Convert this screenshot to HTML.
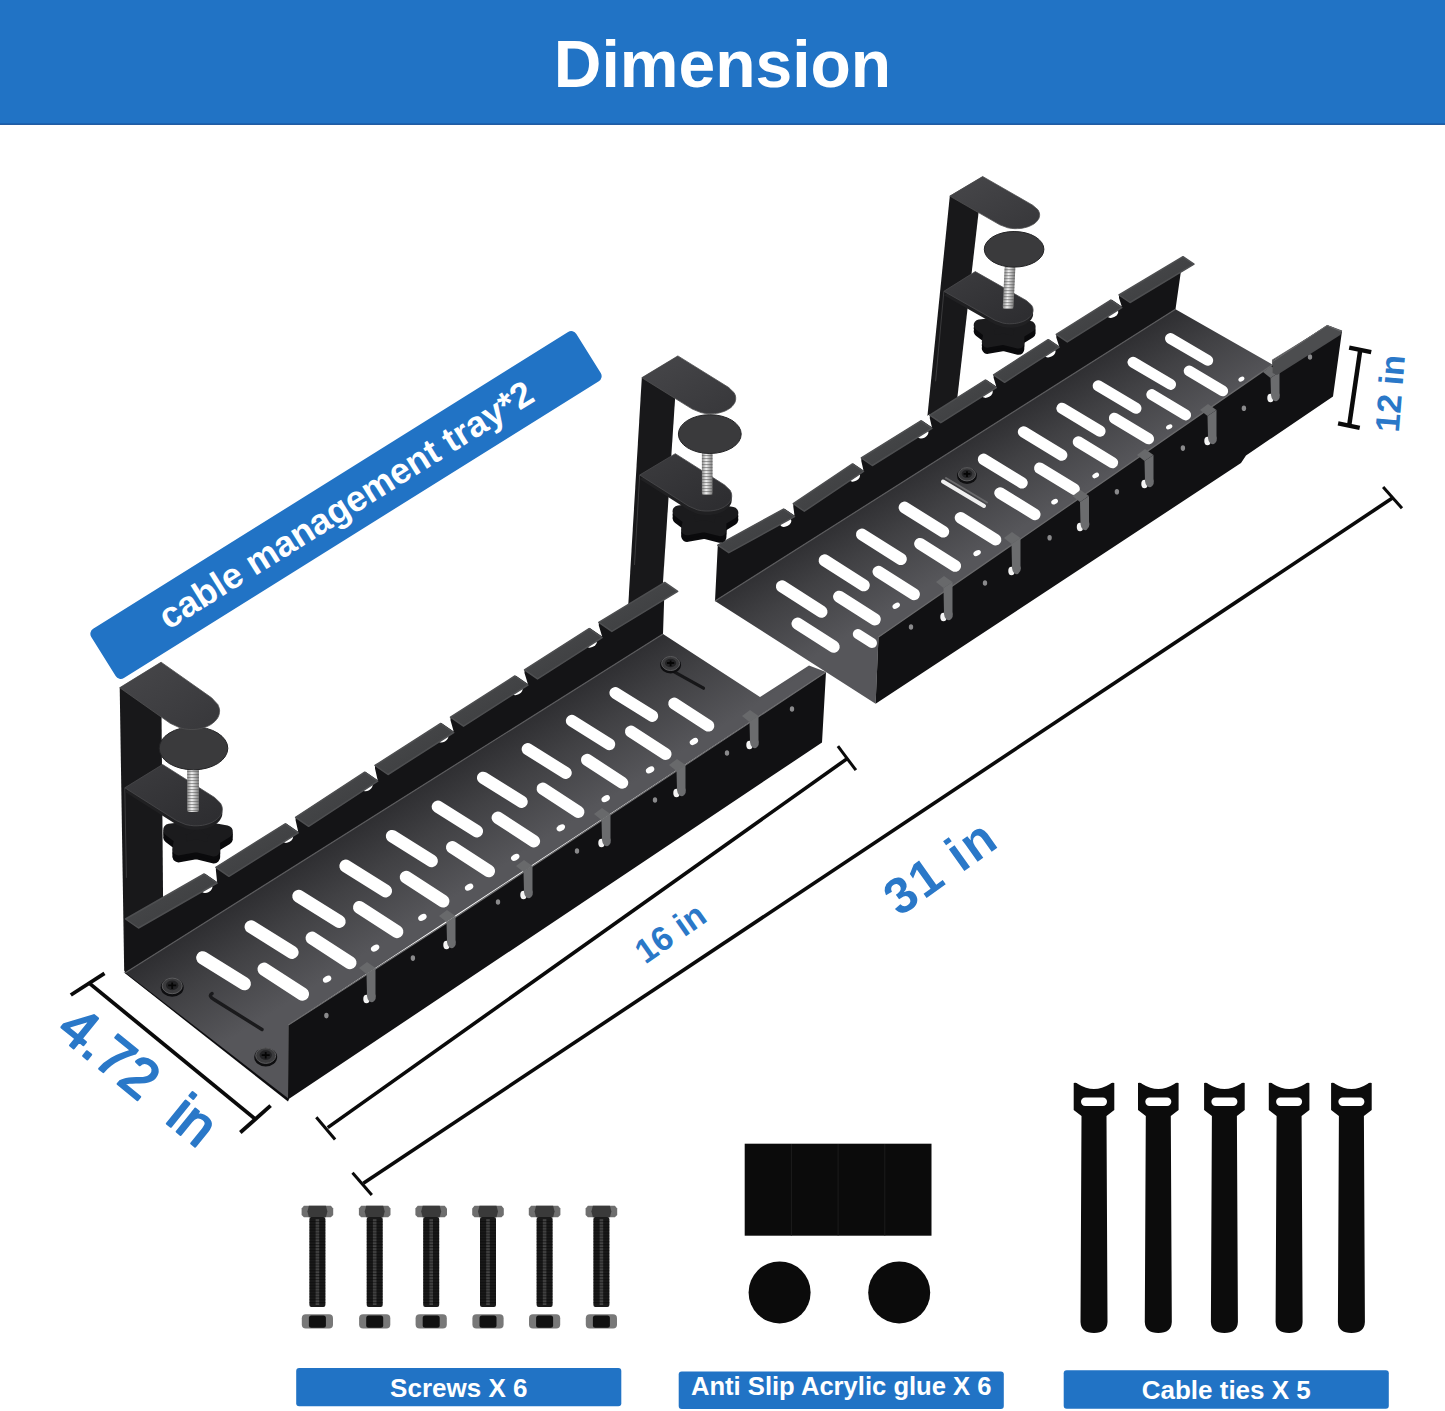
<!DOCTYPE html>
<html><head><meta charset="utf-8"><title>Dimension</title>
<style>
html,body{margin:0;padding:0;background:#fff;}
body{width:1445px;height:1411px;overflow:hidden;font-family:"Liberation Sans",sans-serif;}
svg{display:block;}
text{font-family:"Liberation Sans",sans-serif;}
</style></head><body>
<svg width="1445" height="1411" viewBox="0 0 1445 1411">
<defs>
<linearGradient id="floor1" gradientUnits="userSpaceOnUse" x1="380" y1="790" x2="450" y2="900"><stop offset="0" stop-color="#27272a"/><stop offset="0.5" stop-color="#414144"/><stop offset="1" stop-color="#56565a"/></linearGradient>
<linearGradient id="floor2" gradientUnits="userSpaceOnUse" x1="930" y1="440" x2="995" y2="545"><stop offset="0" stop-color="#27272a"/><stop offset="0.5" stop-color="#414144"/><stop offset="1" stop-color="#56565a"/></linearGradient>
<linearGradient id="flg" x1="0" y1="0" x2="1" y2="1"><stop offset="0" stop-color="#4a4b4d"/><stop offset="1" stop-color="#3a3b3d"/></linearGradient>
<linearGradient id="armg" x1="0" y1="0" x2="1" y2="1"><stop offset="0" stop-color="#47474a"/><stop offset="1" stop-color="#37373a"/></linearGradient>
<linearGradient id="armg2" x1="0" y1="0" x2="1" y2="1"><stop offset="0" stop-color="#3c3c3f"/><stop offset="1" stop-color="#2c2c2f"/></linearGradient>
<linearGradient id="scr" x1="0" y1="0" x2="1" y2="0"><stop offset="0" stop-color="#8a8a8a"/><stop offset="0.4" stop-color="#f2f2f2"/><stop offset="1" stop-color="#7a7a7a"/></linearGradient>
<pattern id="thr" width="4" height="3" patternUnits="userSpaceOnUse"><rect width="4" height="1.1" fill="#555" opacity="0.55"/></pattern>
<pattern id="thr2" width="4" height="2.9" patternUnits="userSpaceOnUse"><rect width="4" height="1.2" fill="#050505"/></pattern>
<filter id="halo" x="-20%" y="-20%" width="140%" height="140%"><feGaussianBlur stdDeviation="2"/></filter>
</defs>
<rect width="1445" height="1411" fill="#fff"/>

<rect x="0" y="0" width="1445" height="124.6" fill="#2173c5"/>
<rect x="0" y="123.6" width="1445" height="1.2" fill="#0f4a94"/>
<text x="722.5" y="86.5" font-size="66" font-weight="bold" fill="#fff" text-anchor="middle">Dimension</text>
<g transform="translate(346,505) rotate(-32)"><rect x="-286" y="-29" width="572" height="58" rx="6" fill="#2173c5"/><text x="0" y="12" font-size="36" font-weight="bold" fill="#fff" text-anchor="middle">cable management tray*2</text></g>
<polygon points="949.8,196.1 982.7,176.5 956.5,405.0 926.0,430.0" fill="#18181a" />
<line x1="943.9" y1="291.3" x2="935.6" y2="381.3" stroke="#3a3a3c" stroke-width="1"/>
<polygon points="1030.0,326.6 1018.7,333.6 1018.7,343.0 1003.4,339.2 987.4,342.1 989.2,332.7 979.3,325.1 995.8,323.2 1005.6,315.6 1014.0,323.8" fill="#0a0a0c" stroke="#0a0a0c" stroke-width="11.2" stroke-linejoin="round" transform="translate(0,6.2)"/>
<polygon points="1030.0,326.6 1018.7,333.6 1018.7,343.0 1003.4,339.2 987.4,342.1 989.2,332.7 979.3,325.1 995.8,323.2 1005.6,315.6 1014.0,323.8" fill="#0a0a0c" stroke="#0a0a0c" stroke-width="11.2" stroke-linejoin="round" transform="translate(0,3.1)"/>
<polygon points="1030.0,326.6 1018.7,333.6 1018.7,343.0 1003.4,339.2 987.4,342.1 989.2,332.7 979.3,325.1 995.8,323.2 1005.6,315.6 1014.0,323.8" fill="#1b1b1d" stroke="#1b1b1d" stroke-width="11.2" stroke-linejoin="round"/>
<polygon points="943.9,295.3 975.3,275.6 1026.3,304.5 1031.4,309.0 1032.6,311.2 1033.0,313.0 1033.1,314.6 1032.9,316.0 1032.4,317.3 1031.8,318.6 1031.0,319.7 1030.1,320.7 1029.1,321.7 1028.0,322.6 1026.7,323.5 1025.4,324.3 1023.9,325.0 1022.3,325.7 1020.6,326.2 1018.7,326.8 1016.7,327.2 1014.5,327.5 1012.2,327.7 1009.5,327.8 1006.4,327.6 1002.7,327.0 994.9,324.2" fill="#202022"/>
<polygon points="943.9,291.3 975.3,271.6 1026.3,300.5 1031.4,305.0 1032.6,307.2 1033.0,309.0 1033.1,310.6 1032.9,312.0 1032.4,313.3 1031.8,314.6 1031.0,315.7 1030.1,316.7 1029.1,317.7 1028.0,318.6 1026.7,319.5 1025.4,320.3 1023.9,321.0 1022.3,321.7 1020.6,322.2 1018.7,322.8 1016.7,323.2 1014.5,323.5 1012.2,323.7 1009.5,323.8 1006.4,323.6 1002.7,323.0 994.9,320.2" fill="url(#armg2)" stroke="#4a4a4c" stroke-width="0.8"/>
<g transform="translate(1010.0,266.0) skewX(-2.66)"><rect x="-5.3" y="0" width="10.7" height="43.0" rx="2" fill="url(#scr)"/><rect x="-5.3" y="0" width="10.7" height="43.0" fill="url(#thr)"/></g>
<ellipse cx="1014.1" cy="249.3" rx="29.8" ry="17.8" fill="#3a3a3c" stroke="#232325" stroke-width="1"/>
<polygon points="949.8,196.1 982.7,176.5 1032.7,205.2 1038.0,209.8 1039.1,212.1 1039.6,214.0 1039.6,215.6 1039.3,217.0 1038.9,218.4 1038.2,219.6 1037.4,220.7 1036.4,221.8 1035.4,222.8 1034.2,223.7 1032.9,224.5 1031.4,225.3 1029.9,226.0 1028.2,226.7 1026.4,227.3 1024.5,227.7 1022.4,228.2 1020.1,228.5 1017.7,228.6 1014.9,228.7 1011.7,228.4 1007.8,227.8 999.8,224.8" fill="url(#armg)" stroke="#505052" stroke-width="0.8"/>
<polygon points="715.0,601.0 1175.5,309.3 1272.6,364.7 1342.0,331.0 878.5,637.0 875.6,703.8" fill="url(#floor2)" />
<line x1="782.0" y1="586.4" x2="821.4" y2="611.7" stroke="#fff" stroke-width="12.2" stroke-linecap="round"/>
<line x1="824.6" y1="560.4" x2="863.8" y2="585.3" stroke="#fff" stroke-width="12.046446961894953" stroke-linecap="round"/>
<line x1="861.9" y1="534.5" x2="900.9" y2="559.1" stroke="#fff" stroke-width="11.911997940267765" stroke-linecap="round"/>
<line x1="904.5" y1="507.5" x2="943.3" y2="531.7" stroke="#fff" stroke-width="11.758444902162719" stroke-linecap="round"/>
<line x1="983.6" y1="459.3" x2="1022.0" y2="482.8" stroke="#fff" stroke-width="11.473326467559216" stroke-linecap="round"/>
<line x1="1023.5" y1="431.9" x2="1061.7" y2="455.1" stroke="#fff" stroke-width="11.329505664263646" stroke-linecap="round"/>
<line x1="1062.0" y1="408.3" x2="1100.0" y2="431.1" stroke="#fff" stroke-width="11.190731204943358" stroke-linecap="round"/>
<line x1="1098.2" y1="385.8" x2="1136.0" y2="408.3" stroke="#fff" stroke-width="11.060247167868177" stroke-linecap="round"/>
<line x1="1133.0" y1="362.2" x2="1170.6" y2="384.4" stroke="#fff" stroke-width="10.93480947476828" stroke-linecap="round"/>
<line x1="1170.4" y1="338.5" x2="1207.8" y2="360.4" stroke="#fff" stroke-width="10.799999999999999" stroke-linecap="round"/>
<line x1="797.6" y1="623.7" x2="833.6" y2="646.7" stroke="#fff" stroke-width="12.2" stroke-linecap="round"/>
<line x1="839.1" y1="596.7" x2="874.8" y2="619.4" stroke="#fff" stroke-width="12.051596424010217" stroke-linecap="round"/>
<line x1="878.5" y1="571.8" x2="914.0" y2="594.2" stroke="#fff" stroke-width="11.910702426564495" stroke-linecap="round"/>
<line x1="920.0" y1="543.8" x2="955.2" y2="565.9" stroke="#fff" stroke-width="11.762298850574712" stroke-linecap="round"/>
<line x1="960.5" y1="517.8" x2="995.5" y2="539.6" stroke="#fff" stroke-width="11.617471264367815" stroke-linecap="round"/>
<line x1="1000.0" y1="493.0" x2="1034.8" y2="514.4" stroke="#fff" stroke-width="11.476219667943806" stroke-linecap="round"/>
<line x1="1039.7" y1="468.1" x2="1074.2" y2="489.2" stroke="#fff" stroke-width="11.334252873563218" stroke-linecap="round"/>
<line x1="1078.3" y1="441.9" x2="1112.6" y2="462.7" stroke="#fff" stroke-width="11.196219667943804" stroke-linecap="round"/>
<line x1="1114.4" y1="418.2" x2="1148.5" y2="438.8" stroke="#fff" stroke-width="11.067126436781608" stroke-linecap="round"/>
<line x1="1151.8" y1="394.6" x2="1185.6" y2="414.9" stroke="#fff" stroke-width="10.93338441890166" stroke-linecap="round"/>
<line x1="1189.1" y1="370.9" x2="1222.7" y2="390.9" stroke="#fff" stroke-width="10.799999999999999" stroke-linecap="round"/>
<line x1="857.8" y1="634.1" x2="872.0" y2="643.0" stroke="#fff" stroke-width="10" stroke-linecap="round"/>
<ellipse cx="896.2" cy="605.7" rx="4" ry="2.6" fill="#fff" transform="rotate(-30 896.2 605.7)"/>
<ellipse cx="977.1" cy="553.1" rx="4" ry="2.6" fill="#fff" transform="rotate(-30 977.1 553.1)"/>
<ellipse cx="1054.6" cy="501.7" rx="3.6" ry="2.4" fill="#fff" transform="rotate(-30 1054.6 501.7)"/>
<ellipse cx="1095.7" cy="475.5" rx="3.6" ry="2.4" fill="#fff" transform="rotate(-30 1095.7 475.5)"/>
<ellipse cx="1169.2" cy="426.9" rx="3.4" ry="2.2" fill="#fff" transform="rotate(-30 1169.2 426.9)"/>
<ellipse cx="1241.4" cy="379.1" rx="3.2" ry="2.2" fill="#fff" transform="rotate(-30 1241.4 379.1)"/>
<line x1="943" y1="481.5" x2="984" y2="506" stroke="#f0f0f0" stroke-width="4" stroke-linecap="round"/>
<line x1="946" y1="478" x2="987" y2="502.5" stroke="#6a6a6c" stroke-width="2" stroke-linecap="round"/>
<polygon points="717.8,545.2 793.3,503.7 861.3,458.0 929.8,415.2 993.6,374.8 1056.3,334.4 1119.0,295.0 1183.0,256.7 1175.5,309.3 715.0,601.0" fill="#141416" />
<line x1="715" y1="601" x2="1175.5" y2="309.3" stroke="#5a5a5c" stroke-width="1.2"/>
<ellipse cx="785.8" cy="522.4" rx="6" ry="4" fill="#fff" transform="rotate(-30 785.8 522.4)"/>
<polygon points="783.5,508.1 793.3,502.7 793.3,506.7 794.5,515.6" fill="#fff" />
<polygon points="717.8,545.2 783.5,509.1 794.5,516.6 728.8,552.7" fill="url(#flg)" stroke="#4e4f51" stroke-width="1.5" stroke-linejoin="round"/>
<ellipse cx="854.5" cy="477.1" rx="6" ry="4" fill="#fff" transform="rotate(-30 854.5 477.1)"/>
<polygon points="852.5,462.9 861.3,457.0 861.3,461.0 863.5,470.4" fill="#fff" />
<polygon points="793.3,503.7 852.5,463.9 863.5,471.4 804.3,511.2" fill="url(#flg)" stroke="#4e4f51" stroke-width="1.5" stroke-linejoin="round"/>
<ellipse cx="922.9" cy="434.0" rx="6" ry="4" fill="#fff" transform="rotate(-30 922.9 434.0)"/>
<polygon points="920.9,419.8 929.8,414.2 929.8,418.2 931.9,427.3" fill="#fff" />
<polygon points="861.3,458.0 920.9,420.8 931.9,428.3 872.3,465.5" fill="url(#flg)" stroke="#4e4f51" stroke-width="1.5" stroke-linejoin="round"/>
<ellipse cx="987.2" cy="393.3" rx="6" ry="4" fill="#fff" transform="rotate(-30 987.2 393.3)"/>
<polygon points="985.3,379.1 993.6,373.8 993.6,377.8 996.3,386.6" fill="#fff" />
<polygon points="929.8,415.2 985.3,380.1 996.3,387.6 940.8,422.7" fill="url(#flg)" stroke="#4e4f51" stroke-width="1.5" stroke-linejoin="round"/>
<ellipse cx="1050.0" cy="352.9" rx="6" ry="4" fill="#fff" transform="rotate(-30 1050.0 352.9)"/>
<polygon points="1048.1,338.7 1056.3,333.4 1056.3,337.4 1059.1,346.2" fill="#fff" />
<polygon points="993.6,374.8 1048.1,339.7 1059.1,347.2 1004.6,382.3" fill="url(#flg)" stroke="#4e4f51" stroke-width="1.5" stroke-linejoin="round"/>
<ellipse cx="1112.7" cy="313.4" rx="6" ry="4" fill="#fff" transform="rotate(-30 1112.7 313.4)"/>
<polygon points="1110.8,299.1 1119.0,294.0 1119.0,298.0 1121.8,306.6" fill="#fff" />
<polygon points="1056.3,334.4 1110.8,300.1 1121.8,307.6 1067.3,341.9" fill="url(#flg)" stroke="#4e4f51" stroke-width="1.5" stroke-linejoin="round"/>
<polygon points="1119.0,295.0 1183.0,256.7 1194.0,264.2 1130.0,302.5" fill="url(#flg)" stroke="#4e4f51" stroke-width="1.5" stroke-linejoin="round"/>
<polygon points="878.5,637.0 1272.6,364.7 1272.6,360.0 1328.0,326.0 1342.0,331.0 1333.0,396.5 1246.0,455.5 1241.0,463.0 875.6,703.8" fill="#111113" />
<polyline points="878.5,637.0 1272.6,364.7 1272.6,360.0 1328.0,326.0 1342.0,331.0" fill="none" stroke="#6a6a6c" stroke-width="1.3"/>
<ellipse cx="911.0" cy="627.0" rx="2.2" ry="2.8" fill="#8a8a8c"/>
<ellipse cx="985.0" cy="583.0" rx="2.2" ry="2.8" fill="#8a8a8c"/>
<ellipse cx="1049.6" cy="537.8" rx="2.2" ry="2.8" fill="#8a8a8c"/>
<ellipse cx="1116.9" cy="491.7" rx="2.2" ry="2.8" fill="#8a8a8c"/>
<ellipse cx="1182.9" cy="448.1" rx="2.2" ry="2.8" fill="#8a8a8c"/>
<ellipse cx="1243.9" cy="408.3" rx="2.2" ry="2.8" fill="#8a8a8c"/>
<ellipse cx="1310.0" cy="357.0" rx="2.2" ry="2.8" fill="#8a8a8c"/>
<ellipse cx="943.5" cy="617.0" rx="3.2" ry="4.2" fill="#f4f4f4"/>
<path d="M943.5,588.0 L952.5,582.0 L952.5,612.0 Q954.0,617.0 950.0,620.0 Q945.0,621.0 944.0,614.0 Z" fill="#6b6c6e"/>
<path d="M943.5,588.0 L952.5,582.0 L944.0,576.0 L936.0,582.0 Z" fill="#68696b"/>
<ellipse cx="1011.5" cy="571.0" rx="3.2" ry="4.2" fill="#f4f4f4"/>
<path d="M1011.5,544.0 L1020.5,538.0 L1020.5,566.0 Q1022.0,571.0 1018.0,574.0 Q1013.0,575.0 1012.0,568.0 Z" fill="#6b6c6e"/>
<path d="M1011.5,544.0 L1020.5,538.0 L1012.0,532.0 L1004.0,538.0 Z" fill="#68696b"/>
<ellipse cx="1080.0" cy="527.0" rx="3.2" ry="4.2" fill="#f4f4f4"/>
<path d="M1080.0,502.0 L1089.0,496.0 L1089.0,522.0 Q1090.5,527.0 1086.5,530.0 Q1081.5,531.0 1080.5,524.0 Z" fill="#6b6c6e"/>
<path d="M1080.0,502.0 L1089.0,496.0 L1080.5,490.0 L1072.5,496.0 Z" fill="#68696b"/>
<ellipse cx="1144.5" cy="484.0" rx="3.2" ry="4.2" fill="#f4f4f4"/>
<path d="M1144.5,461.0 L1153.5,455.0 L1153.5,479.0 Q1155.0,484.0 1151.0,487.0 Q1146.0,488.0 1145.0,481.0 Z" fill="#6b6c6e"/>
<path d="M1144.5,461.0 L1153.5,455.0 L1145.0,449.0 L1137.0,455.0 Z" fill="#68696b"/>
<ellipse cx="1207.5" cy="441.0" rx="3.2" ry="4.2" fill="#f4f4f4"/>
<path d="M1207.5,416.0 L1216.5,410.0 L1216.5,436.0 Q1218.0,441.0 1214.0,444.0 Q1209.0,445.0 1208.0,438.0 Z" fill="#6b6c6e"/>
<path d="M1207.5,416.0 L1216.5,410.0 L1208.0,404.0 L1200.0,410.0 Z" fill="#68696b"/>
<ellipse cx="1270.5" cy="398.0" rx="3.2" ry="4.2" fill="#f4f4f4"/>
<path d="M1270.5,378.0 L1279.5,372.0 L1279.5,393.0 Q1281.0,398.0 1277.0,401.0 Q1272.0,402.0 1271.0,395.0 Z" fill="#6b6c6e"/>
<path d="M1270.5,378.0 L1279.5,372.0 L1271.0,366.0 L1263.0,372.0 Z" fill="#68696b"/>
<ellipse cx="967.0" cy="475.8" rx="10.0" ry="8.1" fill="#0e0e10"/>
<ellipse cx="967.0" cy="474.3" rx="8.5" ry="6.6" fill="#3a3a3c" stroke="#5c5c5e" stroke-width="1"/>
<ellipse cx="967.0" cy="473.8" rx="5.3" ry="4.1" fill="#222224"/>
<path d="M963.6,473.8 L970.4,473.8 M967.0,471.3 L967.0,476.9" stroke="#050505" stroke-width="1.8"/>
<polygon points="1272.6,361 1327.1,325 1342,331 1340.3,335 1277,375 1272.6,373" fill="#4c4d4f"/>
<polyline points="1272.6,361.5 1327.1,325.5 1341.5,331.5" fill="none" stroke="#6a6a6c" stroke-width="1"/>
<polygon points="641.8,377.7 677.9,355.9 661.0,612.0 627.0,626.0" fill="#18181a" />
<line x1="639.7" y1="475.0" x2="634.5" y2="565.0" stroke="#3a3a3c" stroke-width="1"/>
<polygon points="732.4,512.9 720.4,520.3 720.5,530.3 704.1,526.2 687.1,529.4 689.1,519.4 678.5,511.3 696.0,509.3 706.5,501.1 715.4,509.8" fill="#0a0a0c" stroke="#0a0a0c" stroke-width="11.9" stroke-linejoin="round" transform="translate(0,6.6)"/>
<polygon points="732.4,512.9 720.4,520.3 720.5,530.3 704.1,526.2 687.1,529.4 689.1,519.4 678.5,511.3 696.0,509.3 706.5,501.1 715.4,509.8" fill="#0a0a0c" stroke="#0a0a0c" stroke-width="11.9" stroke-linejoin="round" transform="translate(0,3.3)"/>
<polygon points="732.4,512.9 720.4,520.3 720.5,530.3 704.1,526.2 687.1,529.4 689.1,519.4 678.5,511.3 696.0,509.3 706.5,501.1 715.4,509.8" fill="#1b1b1d" stroke="#1b1b1d" stroke-width="11.9" stroke-linejoin="round"/>
<polygon points="639.7,479.0 675.3,457.7 724.6,489.0 730.1,494.3 731.3,496.9 731.7,499.0 731.7,500.8 731.4,502.5 730.9,504.0 730.1,505.3 729.2,506.6 728.2,507.8 727.0,508.8 725.7,509.8 724.3,510.8 722.8,511.6 721.1,512.4 719.3,513.1 717.4,513.7 715.3,514.2 713.1,514.6 710.6,514.9 708.0,515.0 705.0,515.0 701.6,514.7 697.5,513.9 689.0,510.3" fill="#202022"/>
<polygon points="639.7,475.0 675.3,453.7 724.6,485.0 730.1,490.3 731.3,492.9 731.7,495.0 731.7,496.8 731.4,498.5 730.9,500.0 730.1,501.3 729.2,502.6 728.2,503.8 727.0,504.8 725.7,505.8 724.3,506.8 722.8,507.6 721.1,508.4 719.3,509.1 717.4,509.7 715.3,510.2 713.1,510.6 710.6,510.9 708.0,511.0 705.0,511.0 701.6,510.7 697.5,509.9 689.0,506.3" fill="url(#armg2)" stroke="#4a4a4c" stroke-width="0.8"/>
<g transform="translate(707.2,452.0) skewX(0.00)"><rect x="-5.3" y="0" width="10.6" height="43.0" rx="2" fill="url(#scr)"/><rect x="-5.3" y="0" width="10.6" height="43.0" fill="url(#thr)"/></g>
<ellipse cx="709.8" cy="434.1" rx="31.4" ry="19.4" fill="#3a3a3c" stroke="#232325" stroke-width="1"/>
<polygon points="641.8,377.7 677.9,355.9 728.4,387.3 734.1,392.7 735.3,395.3 735.7,397.4 735.7,399.2 735.4,400.9 734.9,402.4 734.1,403.8 733.2,405.1 732.2,406.3 731.0,407.4 729.7,408.4 728.3,409.3 726.7,410.2 725.0,411.0 723.2,411.7 721.2,412.3 719.1,412.9 716.8,413.3 714.4,413.6 711.7,413.8 708.7,413.7 705.2,413.4 701.0,412.6 692.3,409.1" fill="url(#armg)" stroke="#505052" stroke-width="0.8"/>
<polygon points="119.7,687.7 161.1,662.2 163.1,902.0 124.2,972.0" fill="#18181a" />
<line x1="124.8" y1="787.8" x2="126.4" y2="877.8" stroke="#3a3a3c" stroke-width="1"/>
<polygon points="226.6,831.6 213.8,839.5 213.9,850.1 196.6,845.8 178.6,849.1 180.6,838.5 169.4,830.0 188.0,827.8 199.1,819.2 208.5,828.4" fill="#0a0a0c" stroke="#0a0a0c" stroke-width="12.6" stroke-linejoin="round" transform="translate(0,7.0)"/>
<polygon points="226.6,831.6 213.8,839.5 213.9,850.1 196.6,845.8 178.6,849.1 180.6,838.5 169.4,830.0 188.0,827.8 199.1,819.2 208.5,828.4" fill="#0a0a0c" stroke="#0a0a0c" stroke-width="12.6" stroke-linejoin="round" transform="translate(0,3.5)"/>
<polygon points="226.6,831.6 213.8,839.5 213.9,850.1 196.6,845.8 178.6,849.1 180.6,838.5 169.4,830.0 188.0,827.8 199.1,819.2 208.5,828.4" fill="#1b1b1d" stroke="#1b1b1d" stroke-width="12.6" stroke-linejoin="round"/>
<polygon points="124.8,791.8 162.6,768.5 214.6,801.5 220.5,807.2 221.8,810.0 222.3,812.3 222.3,814.3 222.0,816.0 221.4,817.6 220.6,819.1 219.7,820.5 218.6,821.8 217.3,822.9 216.0,824.0 214.4,825.0 212.8,826.0 211.0,826.8 209.1,827.6 207.1,828.2 204.9,828.8 202.5,829.3 199.9,829.6 197.1,829.8 193.9,829.8 190.3,829.4 185.9,828.6 176.8,824.8" fill="#202022"/>
<polygon points="124.8,787.8 162.6,764.5 214.6,797.5 220.5,803.2 221.8,806.0 222.3,808.3 222.3,810.3 222.0,812.0 221.4,813.6 220.6,815.1 219.7,816.5 218.6,817.8 217.3,818.9 216.0,820.0 214.4,821.0 212.8,822.0 211.0,822.8 209.1,823.6 207.1,824.2 204.9,824.8 202.5,825.3 199.9,825.6 197.1,825.8 193.9,825.8 190.3,825.4 185.9,824.6 176.8,820.8" fill="url(#armg2)" stroke="#4a4a4c" stroke-width="0.8"/>
<g transform="translate(193.0,768.0) skewX(0.00)"><rect x="-5.8" y="0" width="11.7" height="44.0" rx="2" fill="url(#scr)"/><rect x="-5.8" y="0" width="11.7" height="44.0" fill="url(#thr)"/></g>
<ellipse cx="193.5" cy="748.3" rx="34.3" ry="21.5" fill="#3a3a3c" stroke="#232325" stroke-width="1"/>
<polygon points="119.7,687.7 161.1,662.2 211.6,697.8 217.8,704.5 219.1,707.7 219.6,710.3 219.5,712.5 219.1,714.5 218.5,716.3 217.6,718.0 216.5,719.5 215.3,720.9 213.9,722.2 212.4,723.4 210.8,724.6 209.0,725.6 207.0,726.5 205.0,727.3 202.7,728.0 200.3,728.6 197.8,729.1 195.0,729.4 191.9,729.5 188.5,729.4 184.6,728.9 179.9,727.8 170.2,723.3" fill="url(#armg)" stroke="#505052" stroke-width="0.8"/>
<polygon points="125.0,973.0 663.0,634.0 760.0,697.0 809.0,665.5 826.0,672.0 288.3,1025.0 288.0,1099.5" fill="url(#floor1)" />
<line x1="202.8" y1="957.8" x2="244.3" y2="983.7" stroke="#fff" stroke-width="13.2" stroke-linecap="round"/>
<line x1="251.1" y1="926.8" x2="292.1" y2="952.4" stroke="#fff" stroke-width="13.041599999999999" stroke-linecap="round"/>
<line x1="298.7" y1="896.2" x2="339.2" y2="921.5" stroke="#fff" stroke-width="12.883199999999999" stroke-linecap="round"/>
<line x1="345.7" y1="866.0" x2="385.7" y2="891.0" stroke="#fff" stroke-width="12.724799999999998" stroke-linecap="round"/>
<line x1="392.1" y1="836.2" x2="431.6" y2="860.9" stroke="#fff" stroke-width="12.566399999999998" stroke-linecap="round"/>
<line x1="437.9" y1="806.8" x2="476.9" y2="831.2" stroke="#fff" stroke-width="12.408" stroke-linecap="round"/>
<line x1="483.1" y1="777.8" x2="521.6" y2="801.8" stroke="#fff" stroke-width="12.2496" stroke-linecap="round"/>
<line x1="527.7" y1="749.1" x2="565.7" y2="772.9" stroke="#fff" stroke-width="12.0912" stroke-linecap="round"/>
<line x1="571.8" y1="720.8" x2="609.3" y2="744.3" stroke="#fff" stroke-width="11.9328" stroke-linecap="round"/>
<line x1="615.3" y1="692.9" x2="652.3" y2="716.0" stroke="#fff" stroke-width="11.7744" stroke-linecap="round"/>
<line x1="264.1" y1="969.2" x2="302.5" y2="994.1" stroke="#fff" stroke-width="13.2" stroke-linecap="round"/>
<line x1="312.1" y1="938.1" x2="350.0" y2="962.7" stroke="#fff" stroke-width="13.041599999999999" stroke-linecap="round"/>
<line x1="359.4" y1="907.4" x2="396.9" y2="931.7" stroke="#fff" stroke-width="12.883199999999999" stroke-linecap="round"/>
<line x1="406.1" y1="877.2" x2="443.1" y2="901.2" stroke="#fff" stroke-width="12.724799999999998" stroke-linecap="round"/>
<line x1="452.2" y1="847.3" x2="488.8" y2="871.0" stroke="#fff" stroke-width="12.566399999999998" stroke-linecap="round"/>
<line x1="497.8" y1="817.8" x2="533.9" y2="841.2" stroke="#fff" stroke-width="12.408" stroke-linecap="round"/>
<line x1="542.7" y1="788.7" x2="578.3" y2="811.8" stroke="#fff" stroke-width="12.2496" stroke-linecap="round"/>
<line x1="587.1" y1="759.9" x2="622.2" y2="782.7" stroke="#fff" stroke-width="12.0912" stroke-linecap="round"/>
<line x1="630.9" y1="731.5" x2="665.6" y2="754.0" stroke="#fff" stroke-width="11.9328" stroke-linecap="round"/>
<line x1="674.1" y1="703.5" x2="708.4" y2="725.7" stroke="#fff" stroke-width="11.7744" stroke-linecap="round"/>
<ellipse cx="327.1" cy="979.2" rx="4.5" ry="3" fill="#fff" transform="rotate(-30 327.1 979.2)"/>
<ellipse cx="375.1" cy="948.1" rx="4.5" ry="3" fill="#fff" transform="rotate(-30 375.1 948.1)"/>
<ellipse cx="422.4" cy="917.4" rx="4.5" ry="3" fill="#fff" transform="rotate(-30 422.4 917.4)"/>
<ellipse cx="469.1" cy="887.2" rx="4.5" ry="3" fill="#fff" transform="rotate(-30 469.1 887.2)"/>
<ellipse cx="515.2" cy="857.3" rx="4.5" ry="3" fill="#fff" transform="rotate(-30 515.2 857.3)"/>
<ellipse cx="560.8" cy="827.8" rx="4.5" ry="3" fill="#fff" transform="rotate(-30 560.8 827.8)"/>
<ellipse cx="605.7" cy="798.7" rx="4.5" ry="3" fill="#fff" transform="rotate(-30 605.7 798.7)"/>
<ellipse cx="650.1" cy="769.9" rx="4.5" ry="3" fill="#fff" transform="rotate(-30 650.1 769.9)"/>
<ellipse cx="693.9" cy="741.5" rx="4.5" ry="3" fill="#fff" transform="rotate(-30 693.9 741.5)"/>
<line x1="672" y1="670.6" x2="703.5" y2="688.2" stroke="#161618" stroke-width="3.2" stroke-linecap="round"/>
<path d="M262,1029.5 L214,999.5 Q208,996 212,993.5" fill="none" stroke="#1a1a1c" stroke-width="3.4" stroke-linecap="round"/>
<polygon points="123.5,972 126,973 289,1099 288,1101.5" fill="#0c0c0e"/>
<polygon points="125.5,919.0 215.9,867.3 295.6,817.3 375.0,765.5 450.5,717.2 524.5,669.9 598.8,622.4 664.7,582.4 663.0,634.0 125.0,973.0" fill="#141416" />
<line x1="125" y1="973" x2="663" y2="634" stroke="#5a5a5c" stroke-width="1.2"/>
<ellipse cx="206.9" cy="888.5" rx="6" ry="4" fill="#fff" transform="rotate(-30 206.9 888.5)"/>
<polygon points="204.1,873.0 215.9,866.3 215.9,870.3 217.1,882.0" fill="#fff" />
<polygon points="125.5,919.0 204.1,874.0 217.1,883.0 138.5,928.0" fill="url(#flg)" stroke="#4e4f51" stroke-width="1.5" stroke-linejoin="round"/>
<ellipse cx="287.6" cy="838.3" rx="6" ry="4" fill="#fff" transform="rotate(-30 287.6 838.3)"/>
<polygon points="285.2,822.8 295.6,816.3 295.6,820.3 298.2,831.8" fill="#fff" />
<polygon points="215.9,867.3 285.2,823.8 298.2,832.8 228.9,876.3" fill="url(#flg)" stroke="#4e4f51" stroke-width="1.5" stroke-linejoin="round"/>
<ellipse cx="367.1" cy="786.7" rx="6" ry="4" fill="#fff" transform="rotate(-30 367.1 786.7)"/>
<polygon points="364.7,771.2 375.0,764.5 375.0,768.5 377.7,780.2" fill="#fff" />
<polygon points="295.6,817.3 364.7,772.2 377.7,781.2 308.6,826.3" fill="url(#flg)" stroke="#4e4f51" stroke-width="1.5" stroke-linejoin="round"/>
<ellipse cx="442.9" cy="738.0" rx="6" ry="4" fill="#fff" transform="rotate(-30 442.9 738.0)"/>
<polygon points="440.7,722.5 450.5,716.2 450.5,720.2 453.7,731.5" fill="#fff" />
<polygon points="375.0,765.5 440.7,723.5 453.7,732.5 388.0,774.5" fill="url(#flg)" stroke="#4e4f51" stroke-width="1.5" stroke-linejoin="round"/>
<ellipse cx="517.1" cy="690.6" rx="6" ry="4" fill="#fff" transform="rotate(-30 517.1 690.6)"/>
<polygon points="514.9,675.0 524.5,668.9 524.5,672.9 527.9,684.0" fill="#fff" />
<polygon points="450.5,717.2 514.9,676.0 527.9,685.0 463.5,726.2" fill="url(#flg)" stroke="#4e4f51" stroke-width="1.5" stroke-linejoin="round"/>
<ellipse cx="591.4" cy="643.1" rx="6" ry="4" fill="#fff" transform="rotate(-30 591.4 643.1)"/>
<polygon points="589.1,627.6 598.8,621.4 598.8,625.4 602.1,636.6" fill="#fff" />
<polygon points="524.5,669.9 589.1,628.6 602.1,637.6 537.5,678.9" fill="url(#flg)" stroke="#4e4f51" stroke-width="1.5" stroke-linejoin="round"/>
<polygon points="598.8,622.4 664.7,582.4 677.7,591.4 611.8,631.4" fill="url(#flg)" stroke="#4e4f51" stroke-width="1.5" stroke-linejoin="round"/>
<polygon points="288.3,1025.0 446.0,923.5 826.0,672.0 822.0,742.5 288.0,1099.5" fill="#111113" />
<polyline points="288.3,1025.0 446.0,923.5 826.0,672.0" fill="none" stroke="#6a6a6c" stroke-width="1.3"/>
<ellipse cx="326.4" cy="1015.6" rx="2.2" ry="2.8" fill="#8a8a8c"/>
<ellipse cx="412.9" cy="958.1" rx="2.2" ry="2.8" fill="#8a8a8c"/>
<ellipse cx="498.0" cy="902.0" rx="2.2" ry="2.8" fill="#8a8a8c"/>
<ellipse cx="577.0" cy="851.0" rx="2.2" ry="2.8" fill="#8a8a8c"/>
<ellipse cx="655.0" cy="800.0" rx="2.2" ry="2.8" fill="#8a8a8c"/>
<ellipse cx="727.0" cy="753.0" rx="2.2" ry="2.8" fill="#8a8a8c"/>
<ellipse cx="792.0" cy="709.0" rx="2.2" ry="2.8" fill="#8a8a8c"/>
<ellipse cx="366.5" cy="999.0" rx="3.2" ry="4.2" fill="#f4f4f4"/>
<path d="M366.5,974.0 L375.5,968.0 L375.5,994.0 Q377.0,999.0 373.0,1002.0 Q368.0,1003.0 367.0,996.0 Z" fill="#6b6c6e"/>
<path d="M366.5,974.0 L375.5,968.0 L367.0,962.0 L359.0,968.0 Z" fill="#68696b"/>
<ellipse cx="446.5" cy="945.0" rx="3.2" ry="4.2" fill="#f4f4f4"/>
<path d="M446.5,922.0 L455.5,916.0 L455.5,940.0 Q457.0,945.0 453.0,948.0 Q448.0,949.0 447.0,942.0 Z" fill="#6b6c6e"/>
<path d="M446.5,922.0 L455.5,916.0 L447.0,910.0 L439.0,916.0 Z" fill="#68696b"/>
<ellipse cx="523.5" cy="895.0" rx="3.2" ry="4.2" fill="#f4f4f4"/>
<path d="M523.5,872.0 L532.5,866.0 L532.5,890.0 Q534.0,895.0 530.0,898.0 Q525.0,899.0 524.0,892.0 Z" fill="#6b6c6e"/>
<path d="M523.5,872.0 L532.5,866.0 L524.0,860.0 L516.0,866.0 Z" fill="#68696b"/>
<ellipse cx="601.5" cy="843.0" rx="3.2" ry="4.2" fill="#f4f4f4"/>
<path d="M601.5,820.0 L610.5,814.0 L610.5,838.0 Q612.0,843.0 608.0,846.0 Q603.0,847.0 602.0,840.0 Z" fill="#6b6c6e"/>
<path d="M601.5,820.0 L610.5,814.0 L602.0,808.0 L594.0,814.0 Z" fill="#68696b"/>
<ellipse cx="676.5" cy="793.0" rx="3.2" ry="4.2" fill="#f4f4f4"/>
<path d="M676.5,771.0 L685.5,765.0 L685.5,788.0 Q687.0,793.0 683.0,796.0 Q678.0,797.0 677.0,790.0 Z" fill="#6b6c6e"/>
<path d="M676.5,771.0 L685.5,765.0 L677.0,759.0 L669.0,765.0 Z" fill="#68696b"/>
<ellipse cx="749.5" cy="745.0" rx="3.2" ry="4.2" fill="#f4f4f4"/>
<path d="M749.5,722.0 L758.5,716.0 L758.5,740.0 Q760.0,745.0 756.0,748.0 Q751.0,749.0 750.0,742.0 Z" fill="#6b6c6e"/>
<path d="M749.5,722.0 L758.5,716.0 L750.0,710.0 L742.0,716.0 Z" fill="#68696b"/>
<ellipse cx="670.6" cy="665.0" rx="10.5" ry="8.5" fill="#0e0e10"/>
<ellipse cx="670.6" cy="663.5" rx="9.0" ry="7.0" fill="#3a3a3c" stroke="#5c5c5e" stroke-width="1"/>
<ellipse cx="670.6" cy="663.0" rx="5.6" ry="4.3" fill="#222224"/>
<path d="M667.0,663.0 L674.2,663.0 M670.6,660.4 L670.6,666.2" stroke="#050505" stroke-width="1.8"/>
<ellipse cx="172.2" cy="987.4" rx="11.5" ry="9.3" fill="#0e0e10"/>
<ellipse cx="172.2" cy="985.9" rx="10.0" ry="7.8" fill="#3a3a3c" stroke="#5c5c5e" stroke-width="1"/>
<ellipse cx="172.2" cy="985.4" rx="6.2" ry="4.8" fill="#222224"/>
<path d="M168.2,985.4 L176.2,985.4 M172.2,982.4 L172.2,988.9" stroke="#050505" stroke-width="1.8"/>
<ellipse cx="265.7" cy="1057.1" rx="11.5" ry="9.3" fill="#0e0e10"/>
<ellipse cx="265.7" cy="1055.6" rx="10.0" ry="7.8" fill="#3a3a3c" stroke="#5c5c5e" stroke-width="1"/>
<ellipse cx="265.7" cy="1055.1" rx="6.2" ry="4.8" fill="#222224"/>
<path d="M261.7,1055.1 L269.7,1055.1 M265.7,1052.1 L265.7,1058.6" stroke="#050505" stroke-width="1.8"/>
<line x1="88.9" y1="982.9" x2="255.9" y2="1119.6" stroke="#0a0a0a" stroke-width="3.8"/>
<line x1="70.8" y1="995" x2="104.5" y2="973.4" stroke="#0a0a0a" stroke-width="3.8"/>
<line x1="240.3" y1="1132.5" x2="270.6" y2="1105.7" stroke="#0a0a0a" stroke-width="3.8"/>
<line x1="327.7" y1="1127.6" x2="847.9" y2="758.1" stroke="#0a0a0a" stroke-width="3.6"/>
<line x1="316.3" y1="1117.2" x2="335.1" y2="1139.5" stroke="#0a0a0a" stroke-width="3"/>
<line x1="837.9" y1="746.1" x2="855.9" y2="770.2" stroke="#0a0a0a" stroke-width="3"/>
<line x1="363.4" y1="1183.2" x2="1392.8" y2="497.8" stroke="#0a0a0a" stroke-width="3.6"/>
<line x1="352.5" y1="1172.8" x2="371.8" y2="1195.1" stroke="#0a0a0a" stroke-width="3"/>
<line x1="1383.1" y1="486.9" x2="1402" y2="508.3" stroke="#0a0a0a" stroke-width="3"/>
<line x1="1360.2" y1="350.1" x2="1349.2" y2="425.4" stroke="#0a0a0a" stroke-width="4.5"/>
<line x1="1349.2" y1="347.6" x2="1371.2" y2="352.1" stroke="#0a0a0a" stroke-width="4.5"/>
<line x1="1338.1" y1="423.4" x2="1359.7" y2="427.9" stroke="#0a0a0a" stroke-width="4.5"/>
<g transform="translate(950.5,881) rotate(-35.5)"><text x="0" y="0" font-size="50.5" font-weight="bold" text-anchor="middle" fill="#fff" stroke="#fff" stroke-width="5" stroke-linejoin="round" xml:space="preserve" letter-spacing="2">31 in</text><text x="0" y="0" font-size="50.5" font-weight="bold" text-anchor="middle" fill="#2a78c8" xml:space="preserve" letter-spacing="2">31 in</text></g>
<g transform="translate(677,942.5) rotate(-35)"><text x="0" y="0" font-size="34" font-weight="bold" text-anchor="middle" fill="#fff" stroke="#fff" stroke-width="5" stroke-linejoin="round" xml:space="preserve">16 in</text><text x="0" y="0" font-size="34" font-weight="bold" text-anchor="middle" fill="#2a78c8" xml:space="preserve">16 in</text></g>
<g transform="translate(1401.8,394.3) rotate(-85.4)"><text x="0" y="0" font-size="34" font-weight="bold" text-anchor="middle" fill="#fff" stroke="#fff" stroke-width="5" stroke-linejoin="round" xml:space="preserve">12 in</text><text x="0" y="0" font-size="34" font-weight="bold" text-anchor="middle" fill="#2a78c8" xml:space="preserve">12 in</text></g>
<g transform="translate(126.5,1091) rotate(39)"><text x="0" y="0" font-size="56" font-weight="normal" text-anchor="middle" fill="#fff" stroke="#fff" stroke-width="7.2" stroke-linejoin="round" xml:space="preserve">4.72  in</text><text x="0" y="0" font-size="56" font-weight="normal" text-anchor="middle" fill="#2a78c8" xml:space="preserve" stroke="#2a78c8" stroke-width="2.2" stroke-linejoin="round">4.72  in</text></g>
<path d="M301.6,1208.5 L303.9,1205.8 L330.9,1205.8 L333.2,1208.5 L333.2,1215 L330.9,1217.3 L303.9,1217.3 L301.6,1215 Z" fill="#6e6e6e"/>
<path d="M308.9,1205.8 L325.9,1205.8 L327.4,1211.5 L325.9,1217.3 L308.9,1217.3 L307.4,1211.5 Z" fill="#3a3a3a"/>
<rect x="309.4" y="1217" width="16" height="90" rx="2" fill="#1a1a1a"/>
<rect x="315.6" y="1219" width="3.6" height="86" fill="#454545"/>
<rect x="309.4" y="1219" width="16" height="86" fill="url(#thr2)" opacity="0.55"/>
<rect x="301.8" y="1314.2" width="31.2" height="14.4" rx="4" fill="#787878"/>
<rect x="308.9" y="1315.5" width="17" height="12.2" rx="2.5" fill="#111"/>
<path d="M358.9,1208.5 L361.2,1205.8 L388.2,1205.8 L390.5,1208.5 L390.5,1215 L388.2,1217.3 L361.2,1217.3 L358.9,1215 Z" fill="#6e6e6e"/>
<path d="M366.2,1205.8 L383.2,1205.8 L384.7,1211.5 L383.2,1217.3 L366.2,1217.3 L364.7,1211.5 Z" fill="#3a3a3a"/>
<rect x="366.7" y="1217" width="16" height="90" rx="2" fill="#1a1a1a"/>
<rect x="372.9" y="1219" width="3.6" height="86" fill="#454545"/>
<rect x="366.7" y="1219" width="16" height="86" fill="url(#thr2)" opacity="0.55"/>
<rect x="359.1" y="1314.2" width="31.2" height="14.4" rx="4" fill="#787878"/>
<rect x="366.2" y="1315.5" width="17" height="12.2" rx="2.5" fill="#111"/>
<path d="M415.4,1208.5 L417.7,1205.8 L444.7,1205.8 L447.0,1208.5 L447.0,1215 L444.7,1217.3 L417.7,1217.3 L415.4,1215 Z" fill="#6e6e6e"/>
<path d="M422.7,1205.8 L439.7,1205.8 L441.2,1211.5 L439.7,1217.3 L422.7,1217.3 L421.2,1211.5 Z" fill="#3a3a3a"/>
<rect x="423.2" y="1217" width="16" height="90" rx="2" fill="#1a1a1a"/>
<rect x="429.4" y="1219" width="3.6" height="86" fill="#454545"/>
<rect x="423.2" y="1219" width="16" height="86" fill="url(#thr2)" opacity="0.55"/>
<rect x="415.6" y="1314.2" width="31.2" height="14.4" rx="4" fill="#787878"/>
<rect x="422.7" y="1315.5" width="17" height="12.2" rx="2.5" fill="#111"/>
<path d="M472.2,1208.5 L474.5,1205.8 L501.5,1205.8 L503.8,1208.5 L503.8,1215 L501.5,1217.3 L474.5,1217.3 L472.2,1215 Z" fill="#6e6e6e"/>
<path d="M479.5,1205.8 L496.5,1205.8 L498.0,1211.5 L496.5,1217.3 L479.5,1217.3 L478.0,1211.5 Z" fill="#3a3a3a"/>
<rect x="480.0" y="1217" width="16" height="90" rx="2" fill="#1a1a1a"/>
<rect x="486.2" y="1219" width="3.6" height="86" fill="#454545"/>
<rect x="480.0" y="1219" width="16" height="86" fill="url(#thr2)" opacity="0.55"/>
<rect x="472.4" y="1314.2" width="31.2" height="14.4" rx="4" fill="#787878"/>
<rect x="479.5" y="1315.5" width="17" height="12.2" rx="2.5" fill="#111"/>
<path d="M528.8,1208.5 L531.1,1205.8 L558.1,1205.8 L560.4,1208.5 L560.4,1215 L558.1,1217.3 L531.1,1217.3 L528.8,1215 Z" fill="#6e6e6e"/>
<path d="M536.1,1205.8 L553.1,1205.8 L554.6,1211.5 L553.1,1217.3 L536.1,1217.3 L534.6,1211.5 Z" fill="#3a3a3a"/>
<rect x="536.6" y="1217" width="16" height="90" rx="2" fill="#1a1a1a"/>
<rect x="542.8" y="1219" width="3.6" height="86" fill="#454545"/>
<rect x="536.6" y="1219" width="16" height="86" fill="url(#thr2)" opacity="0.55"/>
<rect x="529.0" y="1314.2" width="31.2" height="14.4" rx="4" fill="#787878"/>
<rect x="536.1" y="1315.5" width="17" height="12.2" rx="2.5" fill="#111"/>
<path d="M585.6,1208.5 L587.9,1205.8 L614.9,1205.8 L617.2,1208.5 L617.2,1215 L614.9,1217.3 L587.9,1217.3 L585.6,1215 Z" fill="#6e6e6e"/>
<path d="M592.9,1205.8 L609.9,1205.8 L611.4,1211.5 L609.9,1217.3 L592.9,1217.3 L591.4,1211.5 Z" fill="#3a3a3a"/>
<rect x="593.4" y="1217" width="16" height="90" rx="2" fill="#1a1a1a"/>
<rect x="599.6" y="1219" width="3.6" height="86" fill="#454545"/>
<rect x="593.4" y="1219" width="16" height="86" fill="url(#thr2)" opacity="0.55"/>
<rect x="585.8" y="1314.2" width="31.2" height="14.4" rx="4" fill="#787878"/>
<rect x="592.9" y="1315.5" width="17" height="12.2" rx="2.5" fill="#111"/>
<rect x="744.7" y="1143.7" width="186.8" height="92" fill="#0b0b0b"/>
<line x1="791.4" y1="1144" x2="791.4" y2="1235.5" stroke="#1c1c1c" stroke-width="1"/>
<line x1="838.1" y1="1144" x2="838.1" y2="1235.5" stroke="#1c1c1c" stroke-width="1"/>
<line x1="884.8" y1="1144" x2="884.8" y2="1235.5" stroke="#1c1c1c" stroke-width="1"/>
<circle cx="779.6" cy="1292.4" r="31" fill="#0b0b0b"/><circle cx="899.2" cy="1292.4" r="31" fill="#0b0b0b"/>
<path d="M1073.7,1083 Q1076.0,1082 1078.0,1084 Q1094.0,1094 1110.0,1084 Q1112.0,1082 1114.3,1083 L1114.3,1110 L1106.5,1116 L1107.5,1322 Q1107.0,1333 1094.0,1333 Q1081.0,1333 1080.5,1322 L1081.5,1116 L1073.7,1110 Z" fill="#0c0c0c"/>
<rect x="1081.0" y="1097.5" width="26" height="8.5" rx="4.2" fill="#fff"/>
<path d="M1138.0,1083 Q1140.3,1082 1142.3,1084 Q1158.3,1094 1174.3,1084 Q1176.3,1082 1178.6,1083 L1178.6,1110 L1170.8,1116 L1171.8,1322 Q1171.3,1333 1158.3,1333 Q1145.3,1333 1144.8,1322 L1145.8,1116 L1138.0,1110 Z" fill="#0c0c0c"/>
<rect x="1145.3" y="1097.5" width="26" height="8.5" rx="4.2" fill="#fff"/>
<path d="M1204.1,1083 Q1206.4,1082 1208.4,1084 Q1224.4,1094 1240.4,1084 Q1242.4,1082 1244.7,1083 L1244.7,1110 L1236.9,1116 L1237.9,1322 Q1237.4,1333 1224.4,1333 Q1211.4,1333 1210.9,1322 L1211.9,1116 L1204.1,1110 Z" fill="#0c0c0c"/>
<rect x="1211.4" y="1097.5" width="26" height="8.5" rx="4.2" fill="#fff"/>
<path d="M1268.8,1083 Q1271.1,1082 1273.1,1084 Q1289.1,1094 1305.1,1084 Q1307.1,1082 1309.4,1083 L1309.4,1110 L1301.6,1116 L1302.6,1322 Q1302.1,1333 1289.1,1333 Q1276.1,1333 1275.6,1322 L1276.6,1116 L1268.8,1110 Z" fill="#0c0c0c"/>
<rect x="1276.1" y="1097.5" width="26" height="8.5" rx="4.2" fill="#fff"/>
<path d="M1331.1,1083 Q1333.4,1082 1335.4,1084 Q1351.4,1094 1367.4,1084 Q1369.4,1082 1371.7,1083 L1371.7,1110 L1363.9,1116 L1364.9,1322 Q1364.4,1333 1351.4,1333 Q1338.4,1333 1337.9,1322 L1338.9,1116 L1331.1,1110 Z" fill="#0c0c0c"/>
<rect x="1338.4" y="1097.5" width="26" height="8.5" rx="4.2" fill="#fff"/>
<rect x="296.2" y="1368.1" width="325.09999999999997" height="38.100000000000136" rx="3" fill="#2173c5"/>
<text x="458.75" y="1396.7" font-size="26" font-weight="bold" fill="#fff" text-anchor="middle">Screws X 6</text>
<rect x="678.7" y="1371.6" width="325.0999999999999" height="37.40000000000009" rx="3" fill="#2173c5"/>
<text x="841.25" y="1395.3" font-size="25.6" font-weight="bold" fill="#fff" text-anchor="middle">Anti Slip Acrylic glue X 6</text>
<rect x="1063.7" y="1370.2" width="325.0999999999999" height="38.59999999999991" rx="3" fill="#2173c5"/>
<text x="1226.25" y="1398.8" font-size="26" font-weight="bold" fill="#fff" text-anchor="middle">Cable ties X 5</text>
</svg></body></html>
